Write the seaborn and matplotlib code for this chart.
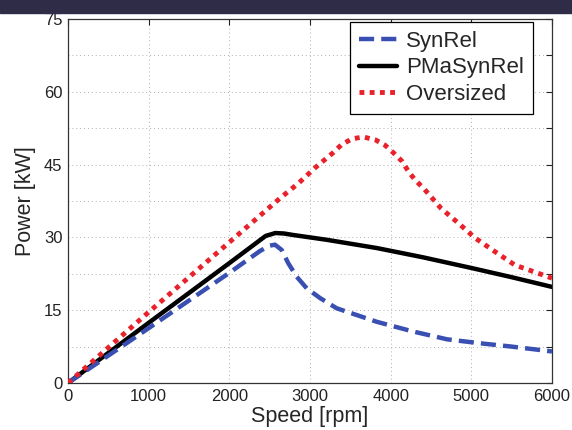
import matplotlib
matplotlib.use("Agg")
import matplotlib.pyplot as plt
import matplotlib.patches as mpatches
import pandas as pd
import seaborn as sns

# values
syn_speed = [0, 1000, 2000, 2380, 2500, 2566, 2650, 2730, 2835, 2960, 3125,
             3330, 3580, 3830, 4280, 4700, 5100, 5500, 6000]
syn_power = [0, 11.3, 22.7, 27.2, 28.3, 28.5, 27.4, 24.7, 21.9, 19.5, 17.5,
             15.4, 14.0, 12.6, 10.6, 9.0, 8.2, 7.5, 6.5]

pma_speed = [0, 1000, 2000, 2450, 2570, 2680, 2790, 3210, 3830, 4400, 5000,
             5500, 6000]
pma_power = [0, 12.4, 24.7, 30.3, 30.9, 30.8, 30.5, 29.5, 27.8, 25.9, 23.7,
             21.8, 19.8]

ovs_speed = [0, 1000, 2000, 2630, 2860, 3060, 3290, 3390, 3520, 3660, 3810,
             3930, 4030, 4140, 4220, 4300, 4414, 4624, 4835, 5045, 5290, 5540,
             6000]
ovs_power = [0, 14.6, 29.0, 38.1, 41.2, 44.3, 47.5, 49.1, 50.3, 50.7, 50.1,
             49.0, 47.5, 45.7, 43.6, 41.9, 40.0, 36.0, 33.0, 29.9, 27.1, 24.3,
             21.6]

x_ticks = [0, 1000, 2000, 3000, 4000, 5000, 6000]
y_ticks = [0, 7.5, 15, 22.5, 30, 37.5, 45, 52.5, 60, 67.5, 75]
y_labels = ["0", "", "15", "", "30", "", "45", "", "60", "", "75"]


def main():
    sns.set_style("white")
    plt.rcParams["font.family"] = ["Liberation Sans", "DejaVu Sans"]

    fig = plt.figure(figsize=(5.72, 4.30), dpi=100)
    ax = fig.add_axes([68 / 572, 47 / 430, 484 / 572, 364 / 430])

    # dark strip at the top of the picture
    fig.patches.append(mpatches.Rectangle((0, 1 - 13 / 430), 1, 13 / 430,
                                          transform=fig.transFigure,
                                          color="#2e2c47", zorder=0))

    syn = pd.DataFrame({"speed": syn_speed, "power": syn_power})
    pma = pd.DataFrame({"speed": pma_speed, "power": pma_power})
    ovs = pd.DataFrame({"speed": ovs_speed, "power": ovs_power})

    sns.lineplot(data=syn, x="speed", y="power", ax=ax, sort=False,
                 estimator=None, color="#3a4fb2", linewidth=3.2,
                 linestyle=(0, (3.4, 1.6)), label="SynRel", zorder=3)
    sns.lineplot(data=pma, x="speed", y="power", ax=ax, sort=False,
                 estimator=None, color="black", linewidth=3.2,
                 label="PMaSynRel", zorder=2)
    sns.lineplot(data=ovs, x="speed", y="power", ax=ax, sort=False,
                 estimator=None, color="#e8212b", linewidth=3.5,
                 linestyle=(0, (1, 1.1)), label="Oversized", zorder=4)

    ax.set_xlim(0, 6000)
    ax.set_ylim(0, 75)
    ax.set_xticks(x_ticks)
    ax.set_yticks(y_ticks)
    ax.set_yticklabels(y_labels)
    ax.tick_params(direction="in", length=4, width=0.8, top=True, right=True,
                   labelsize=12, colors="#222222", pad=4)
    ax.grid(True, linestyle=(0, (1, 3)), color="#b0b0b0", linewidth=0.7)
    for s in ax.spines.values():
        s.set_color("#333333")
        s.set_linewidth(0.9)

    ax.set_xlabel("Speed [rpm]", fontsize=15.5, labelpad=2)
    ax.set_ylabel("Power [kW]", fontsize=15.5, labelpad=6)

    leg = ax.legend(loc="upper right", bbox_to_anchor=(0.961, 0.992),
                    borderaxespad=0, fontsize=16, handlelength=1.75,
                    handletextpad=0.4, labelspacing=0.25, borderpad=0.4,
                    fancybox=False, framealpha=1, edgecolor="black")
    leg.get_frame().set_linewidth(0.9)

    fig.savefig("out.png", dpi=100)


if __name__ == "__main__":
    main()
